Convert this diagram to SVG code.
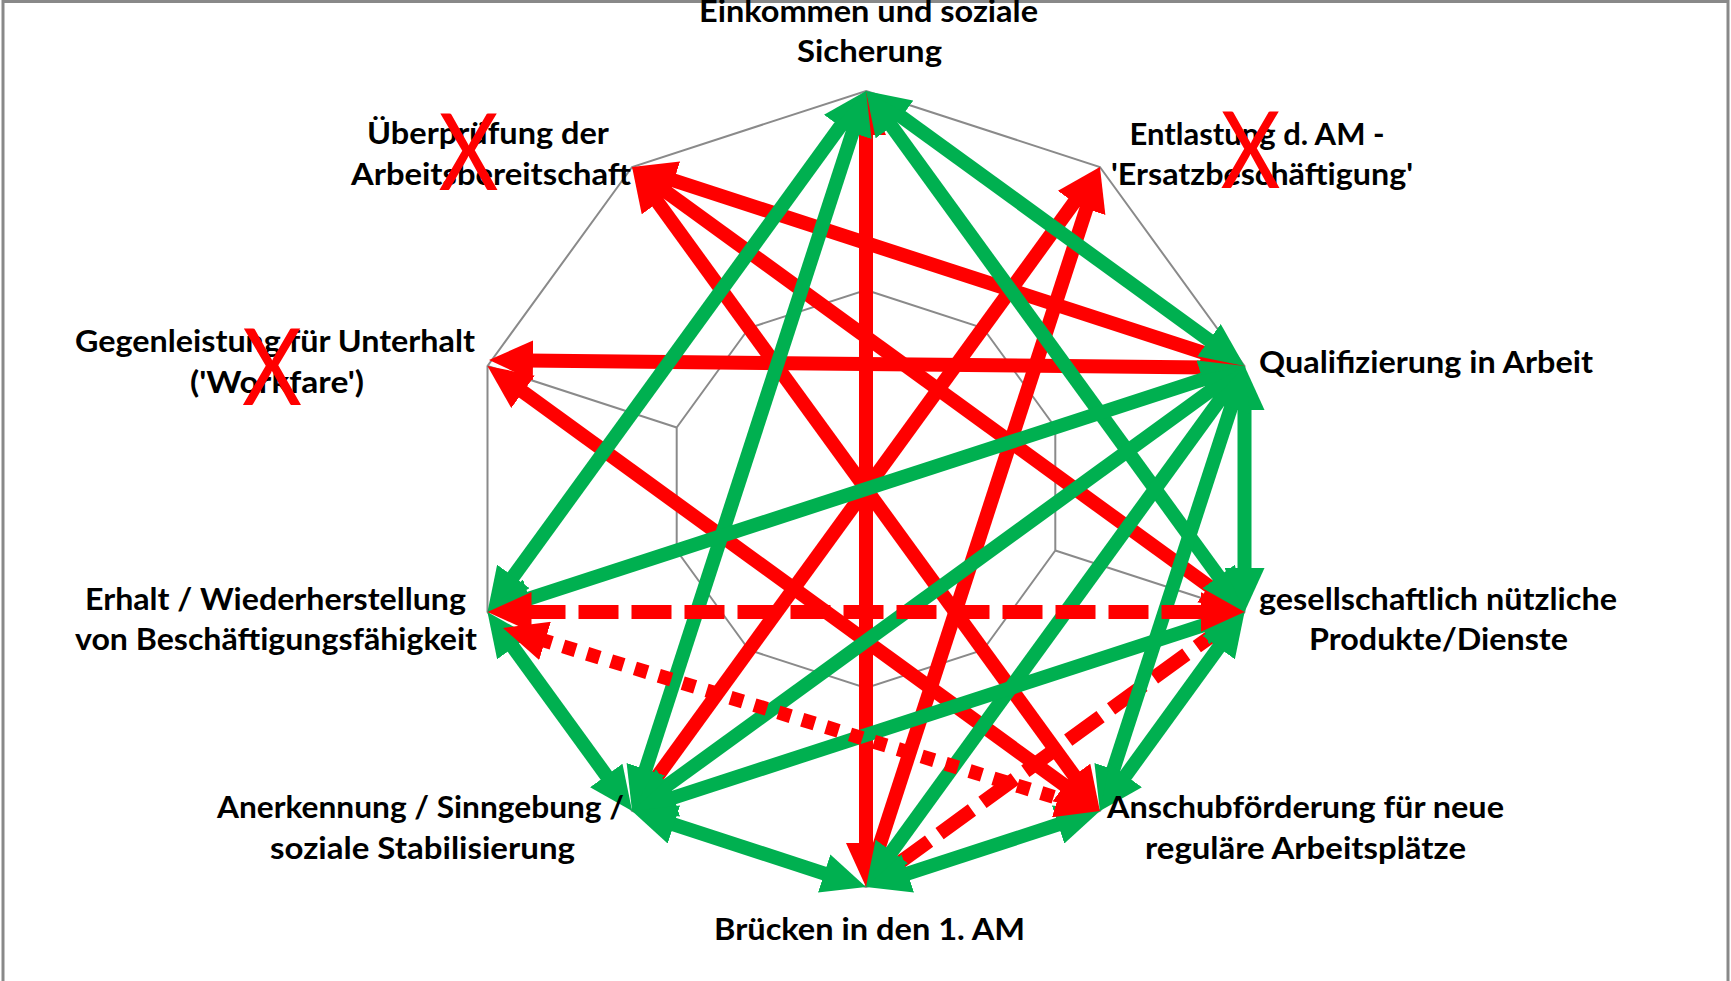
<svg xmlns="http://www.w3.org/2000/svg" width="1731" height="981" viewBox="0 0 1731 981">
<style>
.grid{fill:none;stroke:#8a8a8a;stroke-width:2}
.r{stroke:#FF0000;stroke-width:14;fill:none;marker-start:url(#hr);marker-end:url(#hr)}
.g{stroke:#00B050;stroke-width:14;fill:none;marker-start:url(#hg);marker-end:url(#hg)}
.dash{stroke-dasharray:40 13}
.dot{stroke-dasharray:13 12}
.lbl{font-family:Lato,"Liberation Sans",sans-serif;font-weight:bold;font-size:30px;fill:#000;text-anchor:middle}
.x{font-family:Lato,"Liberation Sans",sans-serif;font-size:107px;fill:#FF0000;text-anchor:middle}
</style>
<defs>
<marker id="hr" markerUnits="userSpaceOnUse" viewBox="0 0 44 40" markerWidth="44" markerHeight="40" refX="6" refY="20" orient="auto-start-reverse"><path d="M0,0 L44,20 L0,40 z" fill="#FF0000"/></marker>
<marker id="hg" markerUnits="userSpaceOnUse" viewBox="0 0 44 40" markerWidth="44" markerHeight="40" refX="6" refY="20" orient="auto-start-reverse"><path d="M0,0 L44,20 L0,40 z" fill="#00B050"/></marker>
</defs>
<rect x="3" y="1.5" width="1725" height="1000" fill="#fff" stroke="#898989" stroke-width="3"/>
<g id="grid">
<polygon class="grid" points="866,91 1099.9,167 1244.5,366 1244.5,612 1099.9,811 866,887 632.1,811 487.5,612 487.5,366 632.1,167"/>
<polygon class="grid" points="866,290 983,328 1055.3,427.5 1055.3,550.5 983,650 866,688 749,650 676.7,550.5 676.7,427.5 749,328"/>
<path class="grid" d="M866,91L866,290M1099.9,167L983,328M1244.5,366L1055.3,427.5M1244.5,612L1055.3,550.5M1099.9,811L983,650M866,887L866,688M632.1,811L749,650M487.5,612L676.7,550.5M487.5,366L676.7,427.5M632.1,167L749,328"/>
</g>
<g id="connectors">
<g id="red-solid">
<line class="r" x1="866" y1="129" x2="866" y2="849"/>
<line class="r" x1="668.2" y1="178.7" x2="1208.4" y2="354.3"/>
<line class="r" x1="662.8" y1="189.3" x2="1213.8" y2="589.7"/>
<line class="r" x1="654.4" y1="197.7" x2="1077.6" y2="780.3"/>
<line class="r" x1="527" y1="360.4" x2="1206.5" y2="367.6"/>
<line class="r" x1="518.2" y1="388.3" x2="1069.2" y2="788.7"/>
<line class="r" x1="1077.6" y1="197.7" x2="654.4" y2="780.3"/>
<line class="r" x1="1088.2" y1="203.1" x2="877.7" y2="850.9"/>
<line class="r dash" x1="896.7" y1="864.7" x2="1213.8" y2="634.3"/>
</g>
<g id="green">
<line class="g" x1="843.7" y1="121.7" x2="509.8" y2="581.3"/>
<line class="g" x1="854.3" y1="127.1" x2="643.8" y2="774.9"/>
<line class="g" x1="896.7" y1="113.3" x2="1213.8" y2="343.7"/>
<line class="g" x1="888.3" y1="121.7" x2="1222.2" y2="581.3"/>
<line class="g" x1="1244.5" y1="404" x2="1244.5" y2="574"/>
<line class="g" x1="1208.4" y1="377.7" x2="523.6" y2="600.3"/>
<line class="g" x1="1213.8" y1="388.3" x2="662.8" y2="788.7"/>
<line class="g" x1="1222.2" y1="396.7" x2="888.3" y2="856.3"/>
<line class="g" x1="1232.8" y1="402.1" x2="1111.6" y2="774.9"/>
<line class="g" x1="1208.4" y1="623.7" x2="668.2" y2="799.3"/>
<line class="g" x1="1222.2" y1="642.7" x2="1122.2" y2="780.3"/>
<line class="g" x1="609.8" y1="780.3" x2="509.8" y2="642.7"/>
<line class="g" x1="668.2" y1="822.7" x2="829.9" y2="875.3"/>
<line class="g" x1="902.1" y1="875.3" x2="1063.8" y2="822.7"/>
</g>
<g id="red-dashed">
<line class="r dash" x1="525.5" y1="612" x2="1206.5" y2="612"/>
<line class="r dot" x1="539.3" y1="639.1" x2="1063.6" y2="799.9"/>
</g>
</g>
<g id="n0"><text class="lbl" x="868.5" y="22" textLength="339" lengthAdjust="spacingAndGlyphs">Einkommen und soziale</text><text class="lbl" x="869.5" y="62" textLength="145" lengthAdjust="spacingAndGlyphs">Sicherung</text></g>
<g id="n1"><text class="lbl" x="1257" y="145" textLength="255" lengthAdjust="spacingAndGlyphs">Entlastung d. AM -</text><text class="lbl" x="1262" y="185" textLength="302" lengthAdjust="spacingAndGlyphs">'Ersatzbeschäftigung'</text><text class="x" x="1250.5" y="188" textLength="60" lengthAdjust="spacingAndGlyphs">X</text></g>
<g id="n2"><text class="lbl" x="1426" y="373" textLength="334" lengthAdjust="spacingAndGlyphs">Qualifizierung in Arbeit</text></g>
<g id="n3"><text class="lbl" x="1438" y="610" textLength="358" lengthAdjust="spacingAndGlyphs">gesellschaftlich nützliche</text><text class="lbl" x="1438.5" y="650" textLength="259" lengthAdjust="spacingAndGlyphs">Produkte/Dienste</text></g>
<g id="n4"><text class="lbl" x="1305.5" y="818" textLength="397" lengthAdjust="spacingAndGlyphs">Anschubförderung für neue</text><text class="lbl" x="1305.5" y="859" textLength="321" lengthAdjust="spacingAndGlyphs">reguläre Arbeitsplätze</text></g>
<g id="n5"><text class="lbl" x="869.5" y="940" textLength="311" lengthAdjust="spacingAndGlyphs">Brücken in den 1. AM</text></g>
<g id="n6"><text class="lbl" x="420.5" y="818" textLength="407" lengthAdjust="spacingAndGlyphs">Anerkennung / Sinngebung /</text><text class="lbl" x="422.5" y="859" textLength="305" lengthAdjust="spacingAndGlyphs">soziale Stabilisierung</text></g>
<g id="n7"><text class="lbl" x="275.5" y="610" textLength="381" lengthAdjust="spacingAndGlyphs">Erhalt / Wiederherstellung</text><text class="lbl" x="276" y="650" textLength="402" lengthAdjust="spacingAndGlyphs">von Beschäftigungsfähigkeit</text></g>
<g id="n8"><text class="lbl" x="275" y="352" textLength="400" lengthAdjust="spacingAndGlyphs">Gegenleistung für Unterhalt</text><text class="lbl" x="277" y="393" textLength="174" lengthAdjust="spacingAndGlyphs">('Workfare')</text><text class="x" x="272" y="405" textLength="60" lengthAdjust="spacingAndGlyphs">X</text></g>
<g id="n9"><text class="lbl" x="488" y="144" textLength="242" lengthAdjust="spacingAndGlyphs">Überprüfung der</text><text class="lbl" x="491" y="185" textLength="280" lengthAdjust="spacingAndGlyphs">Arbeitsbereitschaft</text><text class="x" x="468.5" y="190" textLength="60" lengthAdjust="spacingAndGlyphs">X</text></g>
</svg>
